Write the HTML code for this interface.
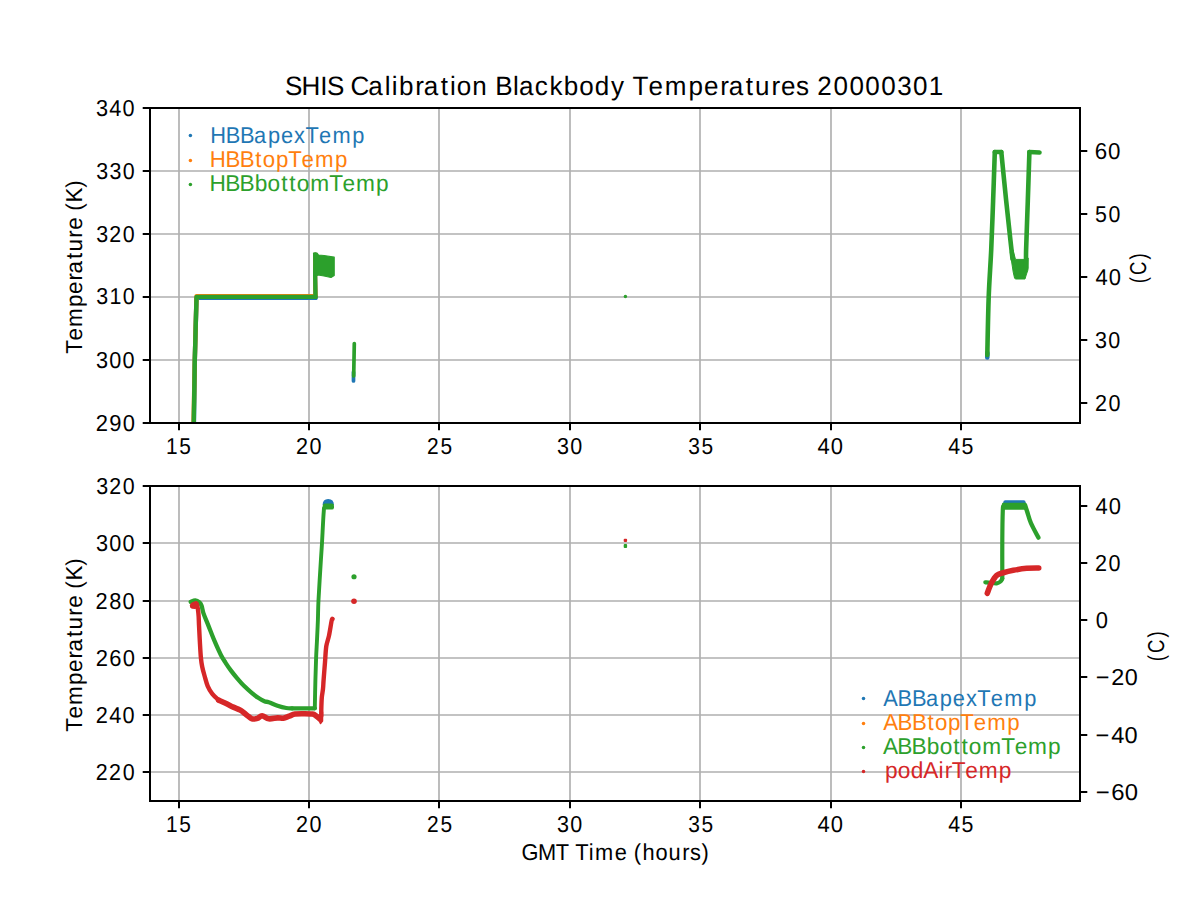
<!DOCTYPE html>
<html><head><meta charset="utf-8"><title>SHIS Calibration Blackbody Temperatures 20000301</title>
<style>html,body{margin:0;padding:0;background:#fff;}svg{display:block;}text{font-family:"Liberation Sans",sans-serif;text-rendering:geometricPrecision;}</style></head>
<body><svg width="1200" height="900" viewBox="0 0 1200 900">
<rect width="1200" height="900" fill="#fff"/>
<path d="M179 108V423M309 108V423M439 108V423M570 108V423M700 108V423M831 108V423M961 108V423M150 360H1080M150 297H1080M150 234H1080M150 171H1080M179 486V801M309 486V801M439 486V801M570 486V801M700 486V801M831 486V801M961 486V801M150 772H1080M150 715H1080M150 658H1080M150 601H1080M150 543H1080" stroke="#b0b0b0" stroke-width="1.667" fill="none"/>
<defs><clipPath id="ct"><rect x="150" y="108" width="930" height="315"/></clipPath><clipPath id="cb"><rect x="150" y="486" width="930" height="315"/></clipPath></defs>
<g fill="none" stroke-linecap="round" stroke-linejoin="round" clip-path="url(#ct)">
<path d="M193.90,426.00 L194.80,360.00 L196.50,297.90 L315.50,297.90" stroke="#1f77b4" stroke-width="4.4"/>
<path d="M315.50,297.90 L315.10,275.00 L315.30,254.50" stroke="#1f77b4" stroke-width="4.2"/>
<path d="M193.50,426.00 L194.80,360.00 L196.50,296.30 L315.50,296.30" stroke="#ff7f0e" stroke-width="4.4"/>
<path d="M315.50,296.30 L315.10,275.00 L315.30,254.50" stroke="#ff7f0e" stroke-width="4.2"/>
<path d="M193.70,426.00 L194.80,360.00 L196.50,296.90 L315.50,296.90" stroke="#2ca02c" stroke-width="4.4"/>
<path d="M315.50,296.90 L315.10,275.00 L315.30,254.50" stroke="#2ca02c" stroke-width="4.2"/>
<polygon points="313.50,253.00 317.00,253.00 318.50,255.00 324.00,255.50 334.20,257.20 334.20,275.50 331.00,277.50 324.00,276.00 318.00,275.00 316.00,276.00" fill="#2ca02c" stroke="#2ca02c" stroke-width="1.2"/>
<path d="M353.50,372.00 L353.50,381.00" stroke="#1f77b4" stroke-width="3.7"/>
<path d="M354.30,343.50 L353.70,376.00" stroke="#2ca02c" stroke-width="3.7"/>
<circle cx="625.4" cy="296.5" r="1.7" fill="#2ca02c" stroke="none"/>
<path d="M987.30,357.50 L987.40,353.00" stroke="#1f77b4" stroke-width="4.6"/>
<path d="M987.30,355.00 C987.53,345.33 988.05,314.50 988.70,297.00 C989.35,279.50 990.47,266.00 991.20,250.00 C991.93,234.00 992.50,217.33 993.10,201.00 C993.70,184.67 994.52,160.17 994.80,152.00" stroke="#2ca02c" stroke-width="4.6"/>
<path d="M994.80,152.00 L1001.30,152.00" stroke="#2ca02c" stroke-width="4.6"/>
<path d="M1001.30,152.00 C1002.12,160.17 1004.68,186.33 1006.20,201.00 C1007.72,215.67 1009.35,230.33 1010.40,240.00 C1011.45,249.67 1012.15,255.83 1012.50,259.00" stroke="#2ca02c" stroke-width="4.6"/>
<polygon points="1010.20,252.00 1011.20,259.00 1013.20,272.00 1014.60,278.30 1015.80,279.00 1025.00,279.00 1026.20,275.00 1027.90,270.00 1028.20,258.00 1024.00,259.40 1015.50,259.40 1013.00,250.00" fill="#2ca02c" stroke="#2ca02c" stroke-width="1"/>
<path d="M1026.20,268.00 C1026.18,265.00 1025.83,261.17 1026.10,250.00 C1026.37,238.83 1027.25,217.33 1027.80,201.00 C1028.35,184.67 1029.13,160.17 1029.40,152.00" stroke="#2ca02c" stroke-width="4.6"/>
<path d="M1029.40,152.00 L1039.50,152.50" stroke="#2ca02c" stroke-width="4.6"/>
</g>
<g fill="none" stroke-linecap="round" stroke-linejoin="round" clip-path="url(#cb)">
<path d="M190.70,601.80 C191.47,601.57 193.83,600.28 195.30,600.40 C196.77,600.52 198.45,601.62 199.50,602.50 C200.55,603.38 200.93,603.88 201.60,605.70 C202.27,607.52 202.40,610.17 203.50,613.40 C204.60,616.63 206.38,620.55 208.20,625.10 C210.02,629.65 212.28,635.72 214.40,640.70 C216.52,645.68 219.03,651.32 220.90,655.00 C222.77,658.68 223.92,660.20 225.60,662.80 C227.28,665.40 229.07,668.02 231.00,670.60 C232.93,673.18 235.00,675.72 237.20,678.30 C239.40,680.88 241.73,683.63 244.20,686.10 C246.67,688.57 249.67,691.15 252.00,693.10 C254.33,695.05 256.13,696.43 258.20,697.80 C260.27,699.17 262.63,700.57 264.40,701.30 C266.17,702.03 266.62,701.47 268.80,702.20 C270.98,702.93 274.58,704.73 277.50,705.70 C280.42,706.67 283.88,707.57 286.30,708.00 C288.72,708.43 291.05,708.25 292.00,708.30" stroke="#2ca02c" stroke-width="4.3"/>
<path d="M292.00,708.30 L314.80,708.30" stroke="#2ca02c" stroke-width="4.3"/>
<path d="M314.80,708.30 C314.90,703.58 315.18,688.38 315.40,680.00 C315.62,671.62 315.83,664.67 316.10,658.00 C316.37,651.33 316.70,646.33 317.00,640.00 C317.30,633.67 317.65,626.67 317.90,620.00 C318.15,613.33 318.00,610.00 318.50,600.00 C319.00,590.00 320.32,569.50 320.90,560.00 C321.48,550.50 321.62,549.67 322.00,543.00 C322.38,536.33 322.87,525.83 323.20,520.00 C323.53,514.17 323.87,510.00 324.00,508.00" stroke="#2ca02c" stroke-width="3.9"/>
<path fill="#1f77b4" stroke="none" d="M322.6,505 Q322.6,498.9 328.2,498.9 Q333.9,498.9 333.9,505 Z"/>
<rect x="322.8" y="503.6" width="11.2" height="6" fill="#2ca02c" stroke="none" rx="2"/>
<path d="M192.00,606.00 C192.75,605.58 195.43,602.27 196.50,603.50 C197.57,604.73 197.98,609.80 198.40,613.40 C198.82,617.00 198.77,620.55 199.00,625.10 C199.23,629.65 199.48,635.25 199.80,640.70 C200.12,646.15 200.50,653.47 200.90,657.80 C201.30,662.13 201.58,663.67 202.20,666.70 C202.82,669.73 203.68,672.77 204.60,676.00 C205.52,679.23 206.42,683.12 207.70,686.10 C208.98,689.08 210.48,691.57 212.30,693.90 C214.12,696.23 217.55,699.07 218.60,700.10" stroke="#d62728" stroke-width="4.4"/>
<path d="M218.60,700.10 C219.77,700.62 223.15,702.03 225.60,703.20 C228.05,704.37 230.85,705.93 233.30,707.10 C235.75,708.27 238.08,708.90 240.30,710.20 C242.52,711.50 244.65,713.47 246.60,714.90 C248.55,716.33 250.20,718.22 252.00,718.80 C253.80,719.38 255.72,718.92 257.40,718.40 C259.08,717.88 260.20,715.63 262.10,715.70 C264.00,715.77 266.23,718.43 268.80,718.80 C271.37,719.17 275.08,718.00 277.50,717.90 C279.92,717.80 281.35,718.48 283.30,718.20 C285.25,717.92 287.25,716.88 289.20,716.20 C291.15,715.52 292.57,714.50 295.00,714.10 C297.43,713.70 300.88,713.80 303.80,713.80 C306.72,713.80 310.47,713.77 312.50,714.10 C314.53,714.43 314.75,714.98 316.00,715.80 C317.25,716.62 319.33,718.47 320.00,719.00" stroke="#d62728" stroke-width="5.6"/>
<polygon points="318.50,716.00 322.50,712.00 322.50,721.00 320.50,723.50 318.80,720.00" fill="#d62728" stroke="#d62728" stroke-width="1.5"/>
<path d="M321.30,716.00 C321.30,714.87 321.22,712.28 321.30,709.20 C321.38,706.12 321.52,700.90 321.80,697.50 C322.08,694.10 322.70,691.72 323.00,688.80 C323.30,685.88 323.27,684.43 323.60,680.00 C323.93,675.57 324.55,667.83 325.00,662.20 C325.45,656.57 325.63,650.63 326.30,646.20 C326.97,641.77 328.10,639.90 329.00,635.60 C329.90,631.30 331.10,623.17 331.70,620.40 C332.30,617.63 332.45,619.23 332.60,619.00" stroke="#d62728" stroke-width="4.4"/>
<ellipse cx="194.5" cy="605.5" rx="4.5" ry="3.6" fill="#d62728" stroke="none"/>
<circle cx="354" cy="576.75" r="2.6" fill="#2ca02c" stroke="none"/>
<circle cx="354" cy="601.25" r="2.8" fill="#d62728" stroke="none"/>
<rect x="623.7" y="538.8" width="3.4" height="3.3" fill="#d62728" stroke="none" rx="1"/>
<rect x="623.7" y="543.9" width="3.4" height="4.1" fill="#2ca02c" stroke="none" rx="1"/>
<rect x="1003.3" y="500.2" width="22.3" height="4" fill="#1f77b4" stroke="none" rx="2"/>
<rect x="1002" y="502.8" width="24.2" height="6.9" fill="#2ca02c" stroke="none" rx="1"/>
<path d="M985.30,582.30 C986.08,582.38 988.10,582.63 990.00,582.80 C991.90,582.97 994.95,583.52 996.70,583.30 C998.45,583.08 999.57,582.27 1000.50,581.50 C1001.43,580.73 1002.00,579.17 1002.30,578.70" stroke="#2ca02c" stroke-width="4.2"/>
<path d="M1002.30,578.70 C1002.30,572.25 1002.22,551.45 1002.30,540.00 C1002.38,528.55 1002.60,515.67 1002.80,510.00 C1003.00,504.33 1003.38,506.67 1003.50,506.00" stroke="#2ca02c" stroke-width="4.2"/>
<path d="M1025.00,505.00 C1025.38,506.17 1026.32,509.00 1027.30,512.00 C1028.28,515.00 1029.05,518.73 1030.90,523.00 C1032.75,527.27 1037.15,535.17 1038.40,537.60" stroke="#2ca02c" stroke-width="4.4"/>
<path d="M987.30,593.30 C987.97,591.63 989.73,586.30 991.30,583.30 C992.87,580.30 994.70,577.07 996.70,575.30 C998.70,573.53 1000.53,573.53 1003.30,572.70 C1006.07,571.87 1009.40,571.03 1013.30,570.30 C1017.20,569.57 1022.47,568.68 1026.70,568.30 C1030.93,567.92 1036.70,568.05 1038.70,568.00" stroke="#d62728" stroke-width="5.6"/>
</g>
<rect x="150" y="108" width="930" height="315" fill="none" stroke="#000" stroke-width="2"/>
<rect x="150" y="486" width="930" height="315" fill="none" stroke="#000" stroke-width="2"/>
<path d="M179 423v7.29M309 423v7.29M439 423v7.29M570 423v7.29M700 423v7.29M831 423v7.29M961 423v7.29M150 423h-7.29M150 360h-7.29M150 297h-7.29M150 234h-7.29M150 171h-7.29M150 108h-7.29M1080 403h7.29M1080 340h7.29M1080 277h7.29M1080 214h7.29M1080 151h7.29M179 801v7.29M309 801v7.29M439 801v7.29M570 801v7.29M700 801v7.29M831 801v7.29M961 801v7.29M150 772h-7.29M150 715h-7.29M150 658h-7.29M150 601h-7.29M150 543h-7.29M150 486h-7.29M1080 792h7.29M1080 735h7.29M1080 677h7.29M1080 620h7.29M1080 563h7.29M1080 506h7.29" stroke="#000" stroke-width="2" fill="none"/>
<circle cx="190.40" cy="135.50" r="1.75" fill="#1f77b4"/>
<circle cx="190.40" cy="160.50" r="1.75" fill="#ff7f0e"/>
<circle cx="190.40" cy="184.50" r="1.75" fill="#2ca02c"/>
<circle cx="863.50" cy="698.50" r="1.75" fill="#1f77b4"/>
<circle cx="863.50" cy="723.50" r="1.75" fill="#ff7f0e"/>
<circle cx="863.50" cy="747.50" r="1.75" fill="#2ca02c"/>
<circle cx="863.50" cy="771.50" r="1.75" fill="#d62728"/>
<text transform="translate(285.56 95.31) scale(0.9824 1)" x="-0.62 16.15 35.36 42.17 59.31 66.21 84.28 100.99 108.07 115.41 132.01 140.63 157.99 167.33 174.22 190.12 205.86 213.44 231.64 237.59 253.78 268.65 283.31 299.01 314.71 331.21 345.74 353.15 369.46 386.03 410.26 426.05 442.52 451.14 468.50 477.88 494.68 504.34 519.67 533.11 541.22 557.74 573.93 590.12 606.31 622.54 638.70 654.75" y="0" font-size="26.5" fill="#000">SHIS Calibration Blackbody Temperatures 20000301</text>
<text transform="translate(95.56 431.00) scale(0.9540 1)" x="0.26 14.40 28.39" y="0" font-size="23.0" fill="#000">290</text>
<text transform="translate(95.46 367.66) scale(0.9423 1)" x="0.66 14.73 28.82" y="0" font-size="23.0" fill="#000">300</text>
<text transform="translate(95.58 304.37) scale(0.9285 1)" x="0.77 14.93 29.34" y="0" font-size="23.0" fill="#000">310</text>
<text transform="translate(95.54 241.98) scale(0.9309 1)" x="0.75 14.69 29.25" y="0" font-size="23.0" fill="#000">320</text>
<text transform="translate(95.54 178.54) scale(0.9297 1)" x="0.76 15.04 29.30" y="0" font-size="23.0" fill="#000">330</text>
<text transform="translate(95.46 115.51) scale(0.9426 1)" x="0.66 14.72 28.81" y="0" font-size="23.0" fill="#000">340</text>
<text transform="translate(82.36 353.37) rotate(-90) scale(0.9719 1)" x="-0.47 13.31 27.20 47.75 61.08 75.03 82.24 97.00 104.82 119.06 127.16 140.34 146.72 155.16 170.36" y="0" font-size="23.0" fill="#000">Temperature (K)</text>
<text transform="translate(95.44 779.76) scale(0.9322 1)" x="0.41 14.66 29.20" y="0" font-size="23.0" fill="#000">220</text>
<text transform="translate(95.46 722.99) scale(0.9439 1)" x="0.33 14.69 28.76" y="0" font-size="23.0" fill="#000">240</text>
<text transform="translate(95.56 666.17) scale(0.9546 1)" x="0.25 14.46 28.37" y="0" font-size="23.0" fill="#000">260</text>
<text transform="translate(95.30 608.85) scale(0.9471 1)" x="0.31 14.62 28.64" y="0" font-size="23.0" fill="#000">280</text>
<text transform="translate(95.46 550.93) scale(0.9423 1)" x="0.66 14.73 28.82" y="0" font-size="23.0" fill="#000">300</text>
<text transform="translate(95.54 493.98) scale(0.9309 1)" x="0.75 14.69 29.25" y="0" font-size="23.0" fill="#000">320</text>
<text transform="translate(82.36 731.37) rotate(-90) scale(0.9719 1)" x="-0.47 13.31 27.20 47.75 61.08 75.03 82.24 97.00 104.82 119.06 127.16 140.34 146.72 155.16 170.36" y="0" font-size="23.0" fill="#000">Temperature (K)</text>
<text transform="translate(1094.57 411.34) scale(0.9380 1)" x="0.37 14.82" y="0" font-size="23.0" fill="#000">20</text>
<text transform="translate(1094.35 347.76) scale(0.9360 1)" x="0.71 14.87" y="0" font-size="23.0" fill="#000">30</text>
<text transform="translate(1095.02 284.65) scale(0.9549 1)" x="0.54 14.45" y="0" font-size="23.0" fill="#000">40</text>
<text transform="translate(1094.43 221.94) scale(0.9281 1)" x="0.65 15.05" y="0" font-size="23.0" fill="#000">50</text>
<text transform="translate(1094.41 159.32) scale(0.9712 1)" x="0.42 14.10" y="0" font-size="23.0" fill="#000">60</text>
<text transform="translate(1145.54 283.65) rotate(-90) scale(0.8066 1)" x="0.64 10.69 29.95" y="0" font-size="23.0" fill="#000">(C)</text>
<text transform="translate(1093.90 799.61) scale(1.0380 1)" x="1.69 16.83 29.63" y="0" font-size="23.0" fill="#000">−60</text>
<text transform="translate(1093.77 742.81) scale(1.0251 1)" x="1.79 17.13 30.08" y="0" font-size="23.0" fill="#000">−40</text>
<text transform="translate(1093.92 685.11) scale(1.0164 1)" x="1.87 17.06 30.40" y="0" font-size="23.0" fill="#000">−20</text>
<text transform="translate(1095.13 627.91) scale(0.9548 1)" x="0.54" y="0" font-size="23.0" fill="#000">0</text>
<text transform="translate(1094.57 571.08) scale(0.9380 1)" x="0.37 14.82" y="0" font-size="23.0" fill="#000">20</text>
<text transform="translate(1095.02 514.11) scale(0.9549 1)" x="0.54 14.45" y="0" font-size="23.0" fill="#000">40</text>
<text transform="translate(1164.04 661.65) rotate(-90) scale(0.8066 1)" x="0.64 10.69 29.95" y="0" font-size="23.0" fill="#000">(C)</text>
<text transform="translate(165.33 453.92) scale(0.9063 1)" x="0.80 15.48" y="0" font-size="23.0" fill="#000">15</text>
<text transform="translate(295.61 453.79) scale(0.9380 1)" x="0.37 14.82" y="0" font-size="23.0" fill="#000">20</text>
<text transform="translate(426.43 453.87) scale(0.9106 1)" x="0.58 15.37" y="0" font-size="23.0" fill="#000">25</text>
<text transform="translate(556.35 454.19) scale(0.9360 1)" x="0.71 14.87" y="0" font-size="23.0" fill="#000">30</text>
<text transform="translate(687.40 454.18) scale(0.9091 1)" x="0.92 15.41" y="0" font-size="23.0" fill="#000">35</text>
<text transform="translate(816.92 454.07) scale(0.9549 1)" x="0.54 14.45" y="0" font-size="23.0" fill="#000">40</text>
<text transform="translate(947.60 454.13) scale(0.9289 1)" x="0.73 14.95" y="0" font-size="23.0" fill="#000">45</text>
<text transform="translate(165.33 831.92) scale(0.9063 1)" x="0.80 15.48" y="0" font-size="23.0" fill="#000">15</text>
<text transform="translate(295.61 831.79) scale(0.9380 1)" x="0.37 14.82" y="0" font-size="23.0" fill="#000">20</text>
<text transform="translate(426.43 831.87) scale(0.9106 1)" x="0.58 15.37" y="0" font-size="23.0" fill="#000">25</text>
<text transform="translate(556.35 832.19) scale(0.9360 1)" x="0.71 14.87" y="0" font-size="23.0" fill="#000">30</text>
<text transform="translate(687.40 832.18) scale(0.9091 1)" x="0.92 15.41" y="0" font-size="23.0" fill="#000">35</text>
<text transform="translate(816.92 832.07) scale(0.9549 1)" x="0.54 14.45" y="0" font-size="23.0" fill="#000">40</text>
<text transform="translate(947.60 832.13) scale(0.9289 1)" x="0.73 14.95" y="0" font-size="23.0" fill="#000">45</text>
<text transform="translate(521.87 859.85) scale(0.9480 1)" x="-0.43 16.97 35.75 49.81 56.21 70.47 77.26 97.94 111.38 117.95 127.25 140.96 154.62 169.17 177.24 189.62" y="0" font-size="23.0" fill="#000">GMT Time (hours)</text>
<text transform="translate(210.22 142.93) scale(0.9486 1)" x="-0.05 16.37 31.47 46.25 60.94 74.60 88.43 100.44 114.55 128.86 149.83" y="0" font-size="23.0" fill="#1f77b4">HBBapexTemp</text>
<text transform="translate(210.08 166.94) scale(0.9691 1)" x="-0.23 15.86 30.64 46.72 54.39 67.94 80.60 94.43 108.37 128.96" y="0" font-size="23.0" fill="#ff7f0e">HBBtopTemp</text>
<text transform="translate(209.89 190.65) scale(0.9851 1)" x="-0.36 15.47 30.01 45.45 58.54 72.32 80.63 88.12 101.78 121.09 134.70 148.36 168.67" y="0" font-size="23.0" fill="#2ca02c">HBBbottomTemp</text>
<text transform="translate(883.45 705.91) scale(0.9491 1)" x="-0.17 14.87 29.96 44.73 59.41 73.06 86.89 98.90 113.00 127.30 148.27" y="0" font-size="23.0" fill="#1f77b4">ABBapexTemp</text>
<text transform="translate(883.66 729.92) scale(0.9691 1)" x="-0.32 14.40 29.17 45.25 52.92 66.47 79.13 92.95 106.89 127.49" y="0" font-size="23.0" fill="#ff7f0e">ABBtopTemp</text>
<text transform="translate(883.39 753.62) scale(0.9849 1)" x="-0.44 14.04 28.58 44.02 57.11 70.89 79.20 86.70 100.37 119.68 133.29 146.95 167.26" y="0" font-size="23.0" fill="#2ca02c">ABBbottomTemp</text>
<text transform="translate(884.48 777.65) scale(0.9876 1)" x="0.42 13.48 26.53 39.31 54.61 60.99 68.21 81.79 95.41 115.67" y="0" font-size="23.0" fill="#d62728">podAirTemp</text>
</svg></body></html>
